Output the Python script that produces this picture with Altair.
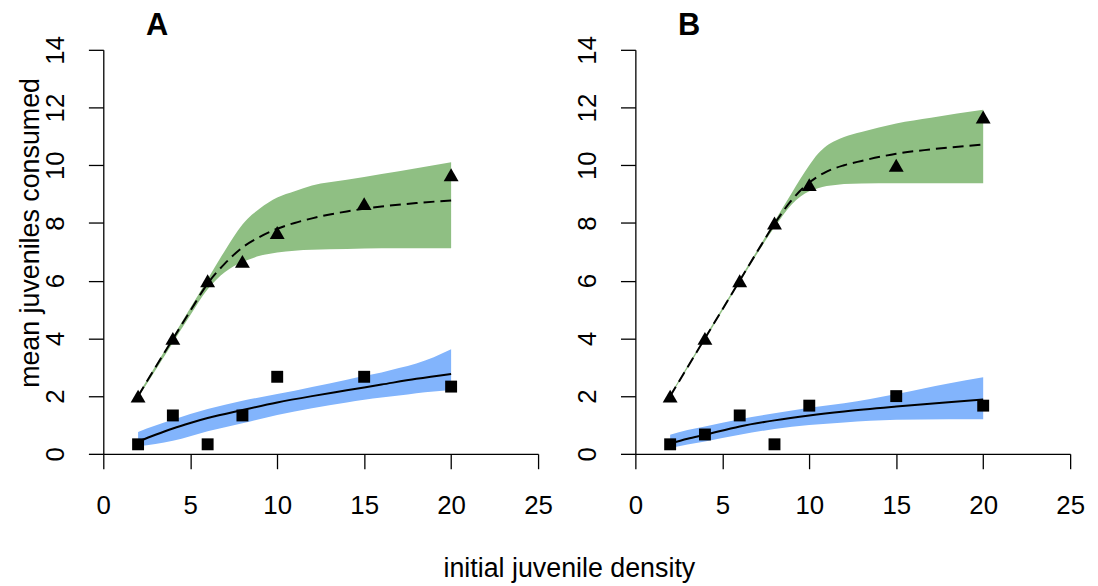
import altair as alt
import pandas as pd

FONT = "Liberation Sans"
GREEN = "#8fbf83"
BLUE = "#82b4fc"

x_ticks = [0, 5, 10, 15, 20, 25]
y_ticks = [0, 2, 4, 6, 8, 10, 12, 14]
densities = [2, 4, 6, 8, 10, 15, 20]

# ---------------- Panel A ----------------
a_triangles = [2.0, 4.0, 6.0, 6.67, 7.67, 8.67, 9.67]
a_squares = [0.33, 1.33, 0.33, 1.33, 2.67, 2.67, 2.33]

a_dash_x = [2, 3, 4, 5, 6, 7, 8, 9, 10, 11, 12, 14, 16, 18, 20]
a_dash_y = [2.0, 3.0, 3.98, 4.95, 5.9, 6.6, 7.15, 7.52, 7.8, 8.0, 8.16, 8.4, 8.57, 8.69, 8.78]

a_solid_x = [2, 3, 4, 5, 6, 8, 10, 12, 14, 16, 18, 20]
a_solid_y = [0.42, 0.66, 0.88, 1.07, 1.24, 1.52, 1.78, 2.0, 2.2, 2.4, 2.6, 2.77]

a_green_x = [2, 3, 4, 5, 6, 7, 8, 8.3, 9, 10, 11, 12, 14, 16, 18, 20]
a_green_hi = [2.05, 3.05, 4.05, 5.05, 6.05, 7.05, 7.95, 8.15, 8.5, 8.88, 9.1, 9.3, 9.5, 9.7, 9.9, 10.1]
a_green_lo = [1.95, 2.9, 3.85, 4.8, 5.7, 6.3, 6.65, 6.72, 6.86, 6.98, 7.04, 7.07, 7.1, 7.12, 7.12, 7.12]

a_blue_x = [2, 3, 4, 6, 8, 10, 12, 14, 15, 16, 17, 18, 19, 20]
a_blue_hi = [0.76, 0.98, 1.18, 1.55, 1.84, 2.07, 2.32, 2.57, 2.7, 2.82, 2.97, 3.13, 3.35, 3.62]
a_blue_lo = [0.26, 0.34, 0.45, 0.78, 1.06, 1.35, 1.58, 1.78, 1.87, 1.95, 2.02, 2.1, 2.16, 2.21]

# ---------------- Panel B ----------------
b_triangles = [2.0, 4.0, 6.0, 8.0, 9.33, 10.0, 11.67]
b_squares = [0.33, 0.67, 1.33, 0.33, 1.67, 2.0, 1.67]

b_dash_x = [2, 4, 6, 7, 8, 9, 10, 11, 12, 13, 15, 17, 20]
b_dash_y = [2.0, 4.0, 6.0, 7.0, 7.97, 8.8, 9.4, 9.78, 10.0, 10.15, 10.4, 10.55, 10.72]

b_solid_x = [2, 3, 4, 6, 8, 10, 12, 15, 18, 20]
b_solid_y = [0.35, 0.52, 0.66, 0.95, 1.16, 1.33, 1.47, 1.64, 1.79, 1.88]

b_green_x = [2, 4, 6, 8, 9, 10, 10.5, 11, 11.5, 12, 13, 15, 17, 20]
b_green_hi = [2.05, 4.05, 6.05, 8.05, 9.05, 10.0, 10.4, 10.68, 10.85, 10.98, 11.15, 11.45, 11.65, 11.92]
b_green_lo = [1.98, 3.95, 5.95, 7.85, 8.65, 9.1, 9.2, 9.28, 9.32, 9.35, 9.37, 9.38, 9.38, 9.38]

b_blue_x = [2, 3, 4, 6, 8, 10, 12, 15, 18, 20]
b_blue_hi = [0.66, 0.83, 0.95, 1.2, 1.41, 1.6, 1.75, 2.07, 2.44, 2.65]
b_blue_lo = [0.2, 0.32, 0.43, 0.66, 0.86, 1.0, 1.09, 1.18, 1.2, 1.2]


def make_panel(letter, tri, sq, dash_x, dash_y, solid_x, solid_y,
               g_x, g_lo, g_hi, b_x, b_lo, b_hi, first):
    xs = alt.Scale(domain=[0, 25], nice=False, zero=False)
    ys = alt.Scale(domain=[0, 14], nice=False, zero=False)

    x_kw = dict(values=x_ticks, format="d", tickSize=15, labelPadding=24,
                labelFlush=False, labelOverlap=False)
    y_kw = dict(values=y_ticks, format="d", tickSize=15, labelPadding=25,
                labelAngle=270, labelAlign="center", labelBaseline="alphabetic",
                labelFlush=False, labelOverlap=False)
    if first:
        x_axis = alt.Axis(title="initial juvenile density", titleX=469, titleY=124,
                          titleAlign="center", titleBaseline="alphabetic",
                          titleAngle=0, **x_kw)
        y_axis = alt.Axis(title="mean juveniles consumed", titleX=-65, titleY=184,
                          titleAlign="center", titleBaseline="alphabetic",
                          titleAngle=270, **y_kw)
    else:
        x_axis = alt.Axis(title=None, **x_kw)
        y_axis = alt.Axis(title=None, **y_kw)

    X = lambda f: alt.X(f, scale=xs, axis=x_axis)
    Y = lambda f: alt.Y(f, scale=ys, axis=y_axis)

    green_df = pd.DataFrame({"x": g_x, "lo": g_lo, "hi": g_hi})
    blue_df = pd.DataFrame({"x": b_x, "lo": b_lo, "hi": b_hi})
    dash_df = pd.DataFrame({"x": dash_x, "lo": dash_y})
    solid_df = pd.DataFrame({"x": solid_x, "lo": solid_y})
    tri_df = pd.DataFrame({"x": densities, "lo": tri})
    sq_df = pd.DataFrame({"x": densities, "lo": sq})

    green = alt.Chart(green_df).mark_area(color=GREEN, opacity=1, interpolate="monotone").encode(
        x=X("x:Q"), y=Y("lo:Q"), y2="hi:Q",
    )
    blue = alt.Chart(blue_df).mark_area(color=BLUE, opacity=1, interpolate="monotone").encode(
        x=X("x:Q"), y=Y("lo:Q"), y2="hi:Q",
    )
    dash = alt.Chart(dash_df).mark_line(color="black", strokeWidth=2, strokeDash=[11, 6],
                                        interpolate="monotone").encode(
        x=X("x:Q"), y=Y("lo:Q"),
    )
    solid = alt.Chart(solid_df).mark_line(color="black", strokeWidth=2,
                                          interpolate="monotone").encode(
        x=X("x:Q"), y=Y("lo:Q"),
    )
    tris = alt.Chart(tri_df).mark_point(shape="triangle-up", filled=True, color="black",
                                        size=225, opacity=1).encode(
        x=X("x:Q"), y=Y("lo:Q"),
    )
    sqs = alt.Chart(sq_df).mark_point(shape="square", filled=True, color="black",
                                      size=144, opacity=1).encode(
        x=X("x:Q"), y=Y("lo:Q"),
    )
    return alt.layer(green, blue, dash, solid, tris, sqs).properties(
        width=438, height=407,
        title=alt.TitleParams(text=letter, anchor="start", frame="group", dx=43, offset=-31,
                              fontSize=31, fontWeight="bold", font=FONT, color="black",
                              baseline="alphabetic"),
    )


panel_a = make_panel("A", a_triangles, a_squares, a_dash_x, a_dash_y, a_solid_x, a_solid_y,
                     a_green_x, a_green_lo, a_green_hi, a_blue_x, a_blue_lo, a_blue_hi, True)
panel_b = make_panel("B", b_triangles, b_squares, b_dash_x, b_dash_y, b_solid_x, b_solid_y,
                     b_green_x, b_green_lo, b_green_hi, b_blue_x, b_blue_lo, b_blue_hi, False)

chart = alt.hconcat(panel_a, panel_b, spacing=98, bounds="flush").properties(
    padding={"left": 8, "top": 0, "right": 5, "bottom": 0},
    background="white",
).configure_view(stroke=None).configure_axis(
    domainColor="black", domainWidth=1.3, tickColor="black", tickWidth=1.3,
    labelColor="black", labelFont=FONT, labelFontSize=26,
    titleColor="black", titleFont=FONT, titleFontSize=27, titleFontWeight="normal",
    grid=False,
)

chart.save("out.html", embed_options={"renderer": "svg", "actions": False})
